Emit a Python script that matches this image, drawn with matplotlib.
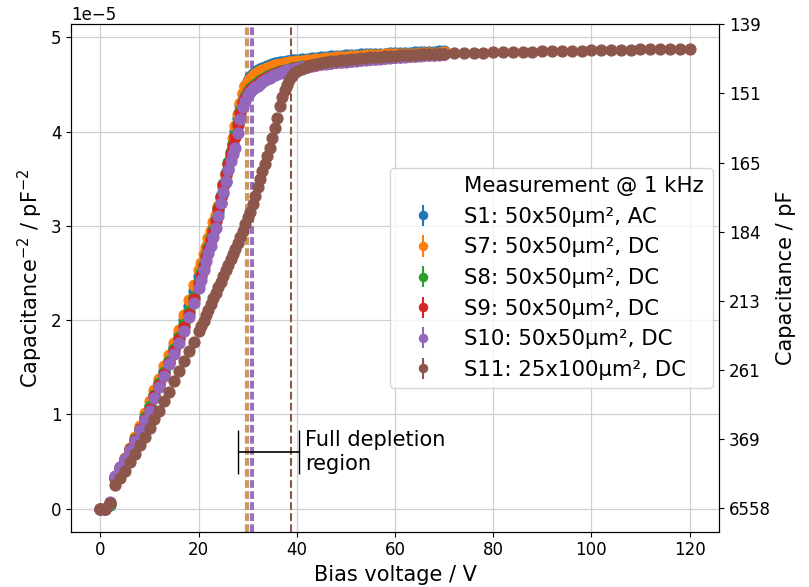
import numpy as np
import matplotlib
matplotlib.use('Agg')
import matplotlib.pyplot as plt

plt.rcParams['font.size'] = 12

# bias voltage grid shared by the 50x50 sensors (V)
v_main = [0, 1, 2, 3, 4, 5, 6, 7, 8, 9, 10, 11, 12, 13, 14, 15, 16, 17, 18, 19, 20,
          20.5, 21, 21.5, 22, 22.5, 23, 23.5, 24, 24.5, 25, 25.5, 26, 26.5, 27, 27.5, 28, 28.5, 29, 29.5, 30,
          30.5, 31, 31.5, 32, 32.5, 33, 33.5, 34, 34.5, 35, 35.5, 36, 36.5, 37, 37.5, 38, 38.5, 39, 39.5, 40,
          41, 42, 43, 44, 45, 46, 47, 48, 49, 50, 51, 52, 53, 54, 55, 56, 57, 58, 59, 60,
          61, 62, 63, 64, 65, 66, 67, 68, 69, 70]
# S11 goes further, in 2 V steps
v_s11 = v_main + [72, 74, 76, 78, 80, 82, 84, 86, 88, 90, 92, 94, 96, 98, 100,
                  102, 104, 106, 108, 110, 112, 114, 116, 118, 120]

# 1/C^2 in units of 1e-5 pF^-2
s1 = [0.00, 0.00, 0.04, 0.31, 0.41, 0.51, 0.61, 0.72, 0.84, 0.96, 1.09, 1.21, 1.33, 1.46, 1.58, 1.71, 1.85, 2.00, 2.15, 2.31, 2.47,
      2.55, 2.64, 2.72, 2.81, 2.89, 2.98, 3.06, 3.15, 3.24, 3.35, 3.47, 3.60, 3.73, 3.87, 4.01, 4.15, 4.28, 4.40, 4.48, 4.54,
      4.58, 4.61, 4.63, 4.65, 4.665, 4.68, 4.69, 4.70, 4.71, 4.72, 4.725, 4.73, 4.735, 4.74, 4.745, 4.75, 4.755, 4.76, 4.76, 4.765,
      4.77, 4.775, 4.78, 4.785, 4.79, 4.795, 4.80, 4.80, 4.805, 4.81, 4.81, 4.815, 4.82, 4.82, 4.825, 4.825, 4.83, 4.83, 4.835, 4.835,
      4.84, 4.84, 4.84, 4.845, 4.845, 4.85, 4.85, 4.85, 4.855, 4.855]
s7 = [0.00, 0.00, 0.05, 0.33, 0.43, 0.54, 0.64, 0.76, 0.88, 1.01, 1.14, 1.26, 1.38, 1.51, 1.63, 1.76, 1.90, 2.05, 2.21, 2.37, 2.53,
      2.61, 2.70, 2.78, 2.87, 2.95, 3.04, 3.12, 3.21, 3.30, 3.41, 3.53, 3.66, 3.79, 3.93, 4.06, 4.19, 4.31, 4.41, 4.48, 4.53,
      4.56, 4.59, 4.61, 4.63, 4.645, 4.66, 4.67, 4.68, 4.69, 4.70, 4.705, 4.71, 4.715, 4.72, 4.725, 4.73, 4.735, 4.74, 4.745, 4.75,
      4.755, 4.76, 4.765, 4.77, 4.775, 4.78, 4.785, 4.79, 4.79, 4.795, 4.80, 4.80, 4.805, 4.81, 4.81, 4.815, 4.815, 4.82, 4.82, 4.825,
      4.825, 4.83, 4.83, 4.83, 4.835, 4.835, 4.84, 4.84, 4.84, 4.845]
s8 = [0.00, 0.00, 0.05, 0.33, 0.43, 0.53, 0.63, 0.74, 0.85, 0.97, 1.09, 1.21, 1.33, 1.45, 1.57, 1.69, 1.82, 1.96, 2.10, 2.25, 2.41,
      2.50, 2.60, 2.69, 2.78, 2.87, 2.96, 3.07, 3.19, 3.32, 3.44, 3.56, 3.68, 3.78, 3.87, 3.96, 4.09, 4.22, 4.32, 4.38, 4.43,
      4.46, 4.49, 4.51, 4.53, 4.545, 4.56, 4.575, 4.59, 4.60, 4.61, 4.62, 4.63, 4.64, 4.645, 4.655, 4.66, 4.67, 4.675, 4.68, 4.685,
      4.695, 4.70, 4.71, 4.715, 4.725, 4.73, 4.735, 4.745, 4.75, 4.755, 4.76, 4.765, 4.77, 4.775, 4.775, 4.78, 4.785, 4.79, 4.795, 4.795,
      4.80, 4.805, 4.805, 4.81, 4.815, 4.815, 4.82, 4.82, 4.825, 4.825]
s9 = [0.00, 0.00, 0.06, 0.34, 0.44, 0.53, 0.63, 0.73, 0.84, 0.95, 1.06, 1.19, 1.31, 1.43, 1.55, 1.67, 1.80, 1.93, 2.07, 2.22, 2.38,
      2.47, 2.57, 2.67, 2.76, 2.85, 2.94, 3.05, 3.18, 3.31, 3.43, 3.55, 3.66, 3.76, 3.85, 3.94, 4.07, 4.20, 4.30, 4.36, 4.41,
      4.44, 4.47, 4.49, 4.51, 4.53, 4.545, 4.56, 4.575, 4.59, 4.60, 4.61, 4.62, 4.63, 4.64, 4.645, 4.655, 4.66, 4.67, 4.675, 4.68,
      4.69, 4.695, 4.705, 4.71, 4.72, 4.725, 4.73, 4.74, 4.745, 4.75, 4.755, 4.76, 4.765, 4.77, 4.77, 4.775, 4.78, 4.785, 4.79, 4.79,
      4.795, 4.80, 4.80, 4.805, 4.81, 4.81, 4.815, 4.815, 4.82, 4.82]
s10 = [0.00, 0.00, 0.07, 0.35, 0.44, 0.53, 0.62, 0.72, 0.83, 0.94, 1.04, 1.17, 1.29, 1.41, 1.53, 1.64, 1.76, 1.89, 2.03, 2.18, 2.34,
       2.43, 2.53, 2.63, 2.71, 2.79, 2.88, 2.98, 3.11, 3.24, 3.36, 3.48, 3.59, 3.69, 3.76, 3.83, 3.99, 4.14, 4.26, 4.33, 4.39,
       4.42, 4.45, 4.47, 4.49, 4.51, 4.53, 4.545, 4.56, 4.575, 4.59, 4.60, 4.61, 4.62, 4.63, 4.64, 4.65, 4.655, 4.66, 4.67, 4.675,
       4.685, 4.69, 4.70, 4.71, 4.715, 4.72, 4.73, 4.735, 4.74, 4.745, 4.75, 4.755, 4.76, 4.765, 4.77, 4.77, 4.775, 4.78, 4.785, 4.79,
       4.79, 4.795, 4.80, 4.80, 4.805, 4.81, 4.81, 4.815, 4.815, 4.82]
s11 = [0.00, 0.00, 0.06, 0.25, 0.32, 0.40, 0.49, 0.58, 0.67, 0.76, 0.86, 0.95, 1.04, 1.14, 1.24, 1.35, 1.46, 1.57, 1.67, 1.77, 1.88,
       1.94, 1.99, 2.05, 2.11, 2.17, 2.23, 2.29, 2.35, 2.41, 2.47, 2.53, 2.59, 2.65, 2.70, 2.76, 2.82, 2.88, 2.95, 3.02, 3.09,
       3.15, 3.23, 3.32, 3.41, 3.50, 3.58, 3.66, 3.74, 3.83, 3.93, 4.04, 4.15, 4.27, 4.37, 4.44, 4.50, 4.55, 4.59, 4.62, 4.645,
       4.67, 4.69, 4.705, 4.72, 4.73, 4.74, 4.75, 4.755, 4.76, 4.765, 4.77, 4.775, 4.78, 4.785, 4.79, 4.79, 4.795, 4.80, 4.80, 4.805,
       4.81, 4.81, 4.815, 4.815, 4.82, 4.82, 4.825, 4.825, 4.83, 4.83,
       4.835, 4.835, 4.84, 4.84, 4.845, 4.845, 4.85, 4.85, 4.85, 4.855, 4.855, 4.86, 4.86, 4.86, 4.865,
       4.865, 4.87, 4.87, 4.87, 4.875, 4.875, 4.875, 4.88, 4.88, 4.88]

labels = ['S1: 50x50µm², AC', 'S7: 50x50µm², DC', 'S8: 50x50µm², DC',
          'S9: 50x50µm², DC', 'S10: 50x50µm², DC', 'S11: 25x100µm², DC']
colors = ['tab:blue', 'tab:orange', 'tab:green', 'tab:red', 'tab:purple', 'tab:brown']

# fitted depletion voltages (V)
dep_v = [29.7, 30.1, 30.7, 31.1, 38.8]
dep_colors = ['#c99a5c', '#c99a5c', '#9a70c2', '#9a70c2', '#8c564b']

# full depletion range marker
region_v = 34.3
region_halfwidth = 6.2
region_y = 0.6

# right axis: capacitance in pF
right_labels = ['6558', '369', '261', '213', '184', '165', '151', '139']

fig = plt.figure(figsize=(8.09, 5.87), dpi=100)
ax = fig.add_subplot(111)
fig.subplots_adjust(left=0.0878, right=0.8888, bottom=0.0942, top=0.9586)

ax.plot([], [], ' ', label='Measurement @ 1 kHz')
series = [(v_main, s1), (v_main, s7), (v_main, s8), (v_main, s9), (v_main, s10), (v_s11, s11)]
for (v, s), lab, c in zip(series, labels, colors):
    ax.errorbar(v, np.array(s) * 1e-5, yerr=0.0, fmt='o', ms=7.8, color=c, label=lab)

for v, c in zip(dep_v, dep_colors):
    ax.axvline(v, color=c, ls='--', lw=1.5)

ax.errorbar(region_v, region_y * 1e-5, xerr=region_halfwidth, color='k', lw=1.2, capsize=16)
ax.text(region_v + region_halfwidth + 1.2, region_y * 1e-5, 'Full depletion\nregion',
        va='center', ha='left', fontsize=15)

ax.set_xlim(-6, 126)
ax.set_ylim(-0.245e-5, 5.14e-5)
ax.set_xticks([0, 20, 40, 60, 80, 100, 120])
ax.grid(True, color='#d0d0d0', lw=0.9)
ax.set_axisbelow(True)
ax.set_xlabel('Bias voltage / V', fontsize=15)
ax.set_ylabel('Capacitance$^{-2}$ / pF$^{-2}$', fontsize=15)
ax.tick_params(labelsize=12)

ax.legend(loc='center right', fontsize=15.3, markerscale=0.75, borderaxespad=0.3, handlelength=2.3)

ax2 = ax.twinx()
ax2.set_ylim(ax.get_ylim())
ax2.set_yticks(np.linspace(0.00233e-5, 5.14e-5, len(right_labels)))
ax2.set_yticklabels(right_labels)
ax2.tick_params(labelsize=12)
ax2.set_ylabel('Capacitance / pF', fontsize=15)

fig.savefig('out.png', dpi=100)
